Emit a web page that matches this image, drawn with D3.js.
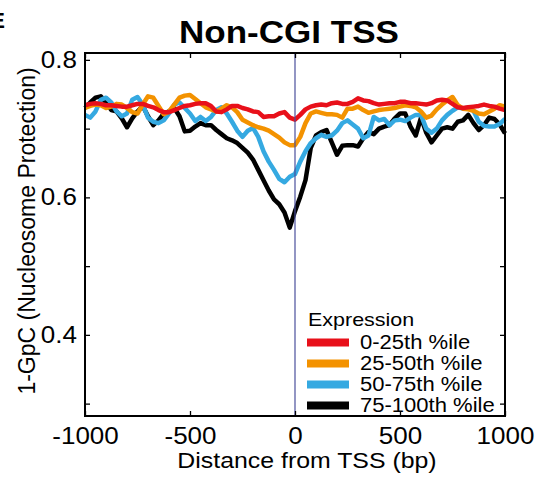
<!DOCTYPE html>
<html>
<head>
<meta charset="utf-8">
<script src="https://cdn.jsdelivr.net/npm/d3@7"></script>
<style>
  body { margin: 0; background: #fff; }
  svg text { font-family: "Liberation Sans", Arial, sans-serif; }
</style>
</head>
<body>
<div id="chart"></div>
<script>
(function() {

const width = 539,
height = 477;

// distance from TSS, every 25 bp
const positions = d3.range(-1000, 1001, 25);

const seriesNames = ["0-25th %ile", "25-50th %ile", "50-75th %ile", "75-100th %ile"];
const seriesColors = ["#e8101a", "#f39200", "#35a9e1", "#000000"];

const q0_25 = [
  0.734, 0.736, 0.737, 0.736, 0.734, 0.734, 0.733, 0.732, 0.732, 0.734, 0.736, 0.736, 0.733, 0.731, 0.727, 0.724, 0.724, 0.727, 0.730, 0.733, 0.734,
  0.736, 0.737, 0.737, 0.733, 0.725, 0.724, 0.728, 0.733, 0.733, 0.730, 0.728, 0.725, 0.724, 0.717, 0.718, 0.718, 0.722, 0.724, 0.716, 0.713,
  0.720, 0.728, 0.732, 0.734, 0.735, 0.734, 0.737, 0.738, 0.736, 0.736, 0.739, 0.744, 0.741, 0.740, 0.737, 0.735, 0.736, 0.737, 0.737, 0.739,
  0.739, 0.737, 0.737, 0.736, 0.735, 0.737, 0.741, 0.742, 0.741, 0.736, 0.731, 0.730, 0.731, 0.732, 0.733, 0.735, 0.733, 0.732, 0.729, 0.727
];
const q25_50 = [
  0.730, 0.733, 0.735, 0.734, 0.730, 0.732, 0.736, 0.735, 0.730, 0.724, 0.722, 0.735, 0.747, 0.745, 0.733, 0.721, 0.725, 0.735, 0.745, 0.748, 0.749,
  0.743, 0.737, 0.731, 0.728, 0.725, 0.729, 0.734, 0.731, 0.724, 0.713, 0.709, 0.705, 0.702, 0.700, 0.697, 0.692, 0.687, 0.680, 0.676, 0.676,
  0.688, 0.708, 0.722, 0.725, 0.723, 0.721, 0.721, 0.720, 0.716, 0.729, 0.729, 0.732, 0.727, 0.723, 0.725, 0.727, 0.728, 0.729, 0.730, 0.732,
  0.734, 0.733, 0.731, 0.725, 0.716, 0.719, 0.728, 0.735, 0.741, 0.746, 0.734, 0.729, 0.728, 0.726, 0.722, 0.721, 0.725, 0.729, 0.734, 0.732
];
const q50_75 = [
  0.720, 0.716, 0.725, 0.742, 0.745, 0.738, 0.725, 0.718, 0.722, 0.742, 0.746, 0.735, 0.716, 0.710, 0.708, 0.712, 0.722, 0.735, 0.738, 0.730, 0.722,
  0.711, 0.717, 0.711, 0.717, 0.727, 0.731, 0.722, 0.710, 0.697, 0.688, 0.697, 0.701, 0.688, 0.667, 0.652, 0.640, 0.627, 0.622, 0.630, 0.634,
  0.652, 0.667, 0.679, 0.686, 0.691, 0.688, 0.690, 0.697, 0.708, 0.712, 0.706, 0.700, 0.686, 0.690, 0.717, 0.712, 0.714, 0.705, 0.712, 0.713,
  0.711, 0.716, 0.720, 0.720, 0.700, 0.694, 0.700, 0.712, 0.720, 0.726, 0.731, 0.729, 0.731, 0.726, 0.710, 0.704, 0.703, 0.703, 0.707, 0.714
];
const q75_100 = [
  0.730, 0.738, 0.745, 0.747, 0.738, 0.727, 0.725, 0.715, 0.702, 0.715, 0.725, 0.733, 0.718, 0.705, 0.712, 0.722, 0.725, 0.730, 0.718, 0.696, 0.697,
  0.703, 0.708, 0.705, 0.705, 0.698, 0.692, 0.686, 0.683, 0.679, 0.672, 0.665, 0.655, 0.640, 0.625, 0.610, 0.597, 0.590, 0.578, 0.556, 0.580,
  0.601, 0.625, 0.672, 0.690, 0.695, 0.698, 0.680, 0.662, 0.675, 0.676, 0.676, 0.674, 0.686, 0.695, 0.692, 0.700, 0.703, 0.705, 0.715, 0.722,
  0.722, 0.703, 0.690, 0.716, 0.694, 0.680, 0.690, 0.700, 0.702, 0.700, 0.710, 0.712, 0.720, 0.708, 0.698, 0.705, 0.716, 0.714, 0.706, 0.693
];
const seriesValues = [q0_25, q25_50, q50_75, q75_100];

const xTicks = [-1000, -500, 0, 500, 1000];
const yTicks = [0.3, 0.4, 0.5, 0.6, 0.7, 0.8];
const yLabelled = [0.4, 0.6, 0.8];

const margin = {top: 53, right: 34, bottom: 61, left: 85};
const x0 = margin.left, x1 = width - margin.right;
const y0 = margin.top, y1 = height - margin.bottom;

// text in the figure is a bit wider than the font
const widen = 1.13;

const svg = d3.select("#chart")
  .append("svg")
  .attr("width", width)
  .attr("height", height);

const x = d3.scaleLinear().domain([-1000, 1000]).range([x0, x1]);
const y = d3.scaleLinear().domain([0.282, 0.81]).range([y1, y0]);

function stretch(sel) {
  sel.each(function() {
    const w = this.getComputedTextLength();
    d3.select(this).attr("textLength", w * widen).attr("lengthAdjust", "spacingAndGlyphs");
  });
}

// lines, bottom to top
const line = d3.line()
  .x((d, i) => x(positions[i]))
  .y(d => y(d));

const order = [3, 2, 1, 0];
svg.append("g")
  .selectAll("path")
  .data(order)
  .join("path")
  .attr("fill", "none")
  .attr("stroke", i => seriesColors[i])
  .attr("stroke-width", 4.5)
  .attr("stroke-linejoin", "round")
  .attr("d", i => line(seriesValues[i]));

// TSS marker
svg.append("line")
  .attr("x1", x(0)).attr("x2", x(0))
  .attr("y1", y0).attr("y2", y1)
  .attr("stroke", "#4a4f9c")
  .attr("stroke-width", 1.2);

// axes
const gx = svg.append("g")
  .attr("transform", `translate(0,${y1})`)
  .call(d3.axisBottom(x).tickValues(xTicks).tickSize(-5).tickPadding(12).tickFormat(d => String(d)));
gx.select(".domain").remove();
gx.selectAll("text").attr("font-size", 23).attr("fill", "#000").call(stretch);

const gxTop = svg.append("g")
  .attr("transform", `translate(0,${y0})`)
  .call(d3.axisTop(x).tickValues(xTicks).tickSize(-5).tickFormat(""));
gxTop.select(".domain").remove();

const gy = svg.append("g")
  .attr("transform", `translate(${x0},0)`)
  .call(d3.axisLeft(y).tickValues(yTicks).tickSize(-5).tickPadding(8)
    .tickFormat(d => yLabelled.some(v => Math.abs(v - d) < 1e-9) ? d3.format(".1f")(d) : ""));
gy.select(".domain").remove();
gy.selectAll("text").attr("font-size", 23).attr("fill", "#000").call(stretch);

const gyRight = svg.append("g")
  .attr("transform", `translate(${x1},0)`)
  .call(d3.axisRight(y).tickValues(yTicks).tickSize(-5).tickFormat(""));
gyRight.select(".domain").remove();

svg.selectAll(".tick line").attr("stroke", "#000").attr("stroke-width", 1.3);

svg.append("rect")
  .attr("x", x0).attr("y", y0)
  .attr("width", x1 - x0).attr("height", y1 - y0)
  .attr("fill", "none")
  .attr("stroke", "#000")
  .attr("stroke-width", 2);

// titles
svg.append("text")
  .attr("x", 289).attr("y", 43)
  .attr("text-anchor", "middle")
  .attr("font-size", 31)
  .attr("font-weight", "bold")
  .text("Non-CGI TSS")
  .call(stretch);

// panel letter, clipped at the left edge as in the figure
svg.append("text")
  .attr("x", 5).attr("y", 28)
  .attr("text-anchor", "end")
  .attr("font-size", 22)
  .attr("font-weight", "bold")
  .text("E");

svg.append("text")
  .attr("x", 307).attr("y", 468)
  .attr("text-anchor", "middle")
  .attr("font-size", 22)
  .text("Distance from TSS (bp)")
  .call(stretch);

svg.append("text")
  .attr("transform", "translate(35,231) rotate(-90)")
  .attr("text-anchor", "middle")
  .attr("font-size", 23)
  .text("1-GpC (Nucleosome Protection)");

// legend
const legend = svg.append("g");
legend.append("text")
  .attr("x", 308).attr("y", 326)
  .attr("font-size", 19)
  .text("Expression")
  .call(stretch);

const items = legend.selectAll("g.item")
  .data(seriesNames)
  .join("g")
  .attr("class", "item")
  .attr("transform", (d, i) => `translate(307,${342.5 + i * 21})`);

items.append("line")
  .attr("x1", 0).attr("x2", 42)
  .attr("stroke", (d, i) => seriesColors[i])
  .attr("stroke-width", 8);

items.append("text")
  .attr("x", 53).attr("y", 6.5)
  .attr("font-size", 19.5)
  .text(d => d)
  .call(stretch);

})();
</script>
</body>
</html>
